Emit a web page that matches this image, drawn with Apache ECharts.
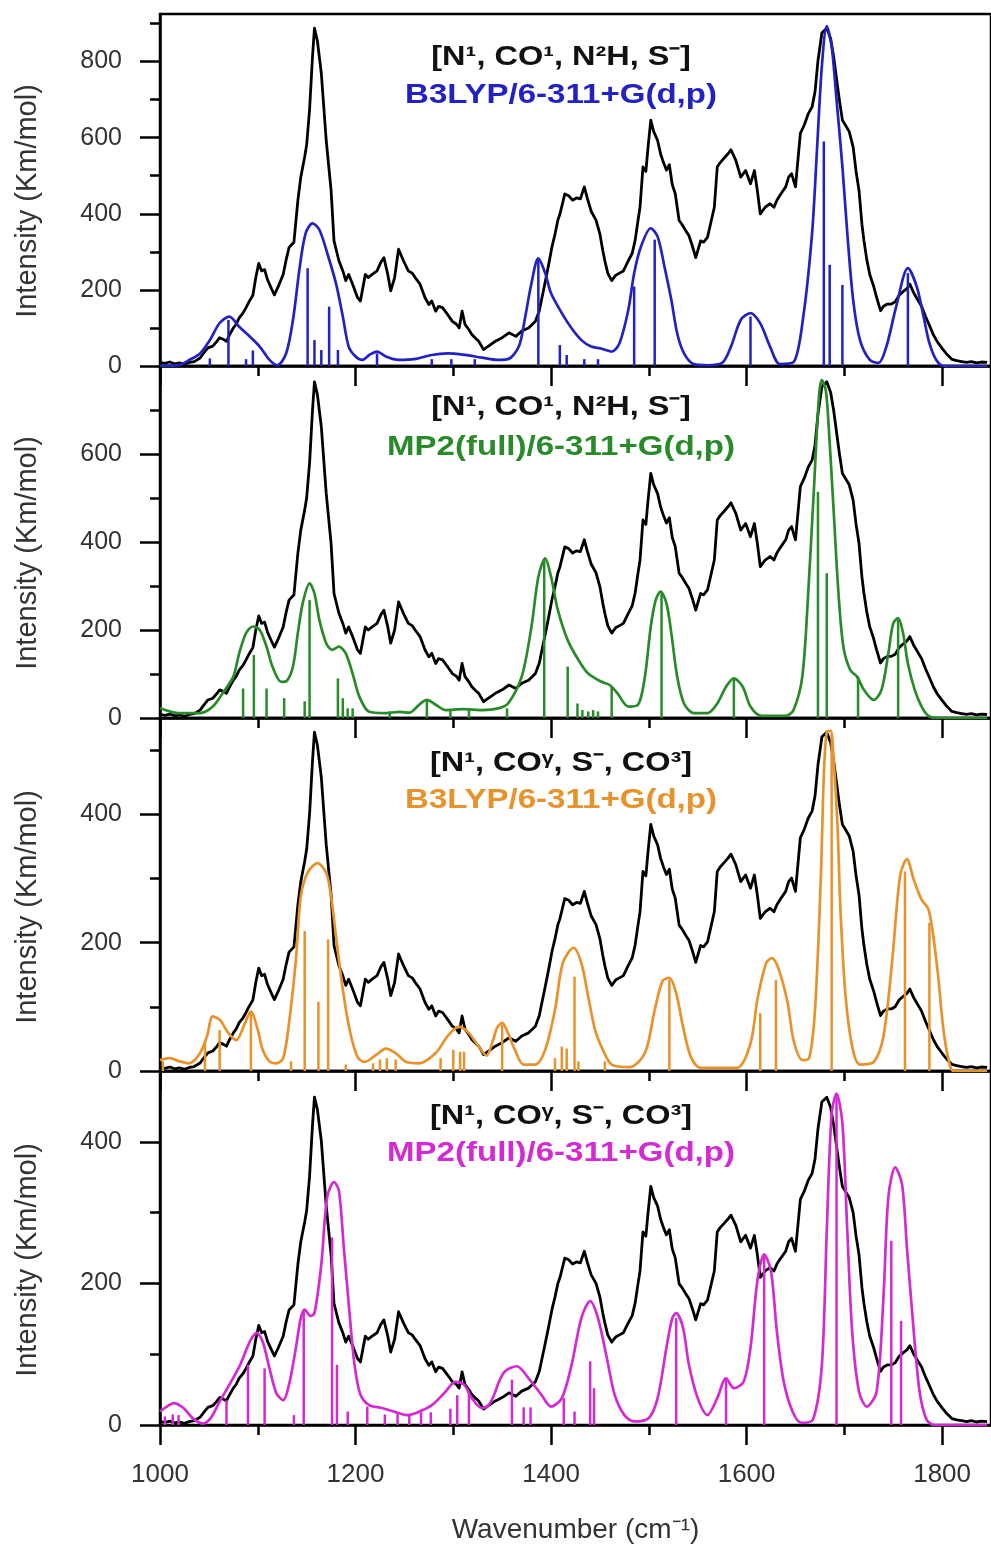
<!DOCTYPE html>
<html><head><meta charset="utf-8">
<script src="https://cdn.jsdelivr.net/npm/echarts@6/dist/echarts.min.js"></script>
<style>html,body{margin:0;padding:0;background:#fff}#chart{width:991px;height:1548px}</style>
</head><body><div id="chart"></div>
<script>
// ---------- data ----------
const xTickMajor = [1000,1200,1400,1600,1800];
const xTickMinor = [1100,1300,1500,1700];

// experimental spectrum (same trace in every panel), read in panel-2 units
const expSpectrum = [[1000,8],[1005,6],[1010,9],[1015,5],[1020,7],[1025,4],[1030,8],[1035,10],[1041,18],[1045,30],[1049,41],[1054,45],[1058,55],[1061,64],[1065,60],[1068,56],[1071,70],[1075,86],[1078,95],[1081,109],[1085,120],[1088,132],[1091,145],[1095,160],[1098,200],[1101,232],[1104,215],[1107,218],[1110,195],[1114,175],[1117,161],[1121,180],[1126,207],[1129,240],[1132,268],[1137,280],[1141,374],[1144,427],[1148,473],[1150,500],[1153,580],[1156,700],[1158,764],[1161,735],[1165,662],[1170,511],[1175,397],[1178,283],[1183,238],[1187,215],[1190,193],[1193,207],[1197,185],[1202,155],[1205,147],[1210,207],[1213,200],[1217,207],[1222,215],[1226,235],[1229,245],[1233,207],[1236,170],[1240,200],[1244,264],[1249,238],[1254,215],[1258,210],[1261,200],[1266,185],[1271,155],[1275,139],[1278,147],[1282,124],[1285,135],[1289,132],[1294,117],[1299,101],[1303,95],[1306,86],[1309,124],[1312,94],[1316,82],[1319,71],[1323,62],[1326,56],[1331,37],[1336,45],[1343,56],[1350,64],[1357,75],[1364,67],[1370,79],[1377,86],[1384,101],[1388,125],[1390,147],[1394,190],[1397,223],[1401,270],[1404,298],[1407,330],[1409,343],[1412,370],[1414,389],[1418,385],[1422,375],[1426,380],[1430,378],[1434,405],[1437,380],[1441,350],[1446,330],[1450,298],[1453,260],[1455,238],[1458,210],[1462,193],[1466,205],[1470,210],[1474,215],[1479,238],[1483,255],[1486,284],[1489,330],[1491,359],[1494,450],[1497,440],[1499,490],[1502,556],[1505,530],[1509,510],[1512,480],[1515,460],[1518,443],[1521,455],[1524,410],[1527,390],[1531,329],[1534,320],[1538,305],[1541,295],[1545,268],[1548,245],[1553,283],[1556,280],[1560,291],[1563,320],[1567,359],[1570,450],[1573,460],[1577,470],[1581,480],[1584,489],[1589,465],[1594,427],[1599,442],[1604,412],[1608,442],[1611,397],[1614,344],[1619,359],[1624,367],[1628,359],[1631,375],[1635,389],[1640,405],[1643,427],[1646,435],[1650,405],[1655,526],[1659,545],[1663,570],[1667,586],[1670,620],[1673,690],[1677,753],[1682,764],[1686,740],[1689,700],[1692,650],[1695,600],[1698,556],[1701,545],[1705,530],[1709,495],[1712,440],[1715,397],[1718,320],[1720,284],[1723,240],[1726,207],[1730,180],[1733,155],[1737,125],[1740,135],[1744,140],[1748,140],[1752,145],[1756,160],[1760,168],[1764,175],[1767,185],[1771,165],[1775,150],[1779,135],[1783,112],[1787,92],[1791,71],[1795,55],[1800,40],[1805,26],[1810,15],[1815,12],[1820,10],[1825,8],[1830,10],[1835,7],[1840,9],[1846,8]];

// panel 1: B3LYP, [N1, CO1, N2H, S-]
const b3lypACurve = [[1000,0],[1020,3],[1030,16],[1041,33],[1051,68],[1061,113],[1071,130],[1081,103],[1092,77],[1102,51],[1112,16],[1120,2],[1129,33],[1136,121],[1143,261],[1149,349],[1156,375],[1163,358],[1171,297],[1180,217],[1187,130],[1193,51],[1200,25],[1207,16],[1214,29],[1222,38],[1231,25],[1244,16],[1260,18],[1278,29],[1294,33],[1312,29],[1329,22],[1346,16],[1356,18],[1367,51],[1373,121],[1380,218],[1387,283],[1394,244],[1400,191],[1411,139],[1421,99],[1431,68],[1441,51],[1451,46],[1462,38],[1470,60],[1479,147],[1485,244],[1492,314],[1502,362],[1509,340],[1516,261],[1523,174],[1529,86],[1536,33],[1546,5],[1560,2],[1575,8],[1584,51],[1594,121],[1604,139],[1614,112],[1624,51],[1634,5],[1648,10],[1658,130],[1667,349],[1672,568],[1677,788],[1682,893],[1687,840],[1692,700],[1698,524],[1703,349],[1709,174],[1716,68],[1726,16],[1735,8],[1743,51],[1753,156],[1765,257],[1774,209],[1781,130],[1787,60],[1794,16],[1802,0],[1846,0]];
const b3lypASticks = [[1051,20],[1070,121],[1088,18],[1095,41],[1151,257],[1158,68],[1165,42],[1173,156],[1182,42],[1222,33],[1278,18],[1298,18],[1322,18],[1387,279],[1409,55],[1416,29],[1434,18],[1448,18],[1485,209],[1506,332],[1604,130],[1679,590],[1685,266],[1698,213],[1765,244]];

// panel 2: MP2(full), [N1, CO1, N2H, S-]
const mp2ACurve = [[1000,22],[1010,15],[1020,11],[1041,11],[1054,26],[1064,56],[1075,94],[1081,147],[1088,193],[1095,208],[1102,200],[1109,162],[1115,117],[1124,82],[1130,85],[1136,117],[1141,193],[1146,261],[1153,306],[1158,283],[1163,223],[1170,170],[1176,155],[1183,162],[1190,147],[1197,101],[1204,48],[1214,14],[1230,11],[1245,14],[1255,12],[1265,30],[1273,41],[1282,30],[1292,18],[1310,20],[1330,18],[1346,22],[1356,33],[1370,94],[1380,208],[1387,321],[1394,363],[1400,321],[1407,245],[1417,177],[1428,132],[1438,101],[1451,83],[1460,75],[1468,56],[1479,26],[1489,30],[1496,94],[1502,208],[1507,268],[1512,287],[1518,261],[1523,193],[1529,94],[1536,33],[1546,11],[1560,11],[1570,33],[1579,71],[1587,90],[1596,71],[1604,26],[1615,5],[1640,5],[1648,18],[1657,94],[1663,283],[1669,526],[1674,730],[1677,768],[1681,745],[1684,662],[1689,473],[1694,283],[1699,162],[1706,109],[1713,94],[1720,64],[1730,41],[1738,64],[1745,147],[1750,215],[1755,227],[1760,193],[1765,124],[1772,64],[1779,26],[1786,5],[1795,0],[1846,0]];
const mp2ASticks = [[1085,67],[1096,143],[1109,67],[1127,45],[1148,38],[1153,268],[1182,90],[1187,45],[1192,22],[1197,22],[1235,15],[1273,41],[1297,20],[1316,20],[1355,22],[1393,359],[1417,117],[1427,33],[1432,18],[1438,15],[1443,18],[1448,15],[1462,71],[1513,283],[1587,90],[1673,514],[1682,329],[1714,94],[1755,223]];

// panel 3: B3LYP, [N1, COγ, S-, CO3]
const b3lypBCurve = [[1000,17],[1010,20],[1020,15],[1030,12],[1041,28],[1048,54],[1054,85],[1061,80],[1070,59],[1078,48],[1087,75],[1093,93],[1100,64],[1105,33],[1112,15],[1119,12],[1126,20],[1132,75],[1139,173],[1144,272],[1151,309],[1161,324],[1170,309],[1175,272],[1180,210],[1187,127],[1194,64],[1202,22],[1209,14],[1221,25],[1231,35],[1241,28],[1252,14],[1265,12],[1282,28],[1295,56],[1306,69],[1316,59],[1326,38],[1334,24],[1340,45],[1345,68],[1350,75],[1356,59],[1363,33],[1372,10],[1384,10],[1394,33],[1404,95],[1412,168],[1423,192],[1431,168],[1438,116],[1445,64],[1453,33],[1462,10],[1480,6],[1496,28],[1506,95],[1514,140],[1521,145],[1528,121],[1535,69],[1543,22],[1553,5],[1590,5],[1604,43],[1611,111],[1620,168],[1626,176],[1633,158],[1642,106],[1648,48],[1657,17],[1664,20],[1670,95],[1676,304],[1679,460],[1682,528],[1686,530],[1689,486],[1693,382],[1696,252],[1701,121],[1708,38],[1716,10],[1730,14],[1740,54],[1749,173],[1757,304],[1764,330],[1771,298],[1779,267],[1786,252],[1791,210],[1796,147],[1801,69],[1806,22],[1812,0],[1846,0]];
const b3lypBSticks = [[1003,15],[1046,46],[1061,64],[1093,93],[1134,15],[1148,218],[1162,108],[1172,205],[1190,10],[1218,12],[1225,18],[1232,20],[1241,18],[1287,20],[1300,33],[1307,30],[1311,30],[1350,72],[1404,20],[1411,38],[1416,35],[1424,147],[1428,15],[1455,15],[1521,142],[1614,90],[1630,142],[1687,525],[1762,311],[1787,231]];

// panel 4: MP2(full), [N1, COγ, S-, CO3]
const mp2BCurve = [[1000,19],[1007,26],[1014,31],[1024,24],[1034,9],[1044,2],[1052,10],[1061,33],[1071,57],[1082,85],[1092,118],[1099,130],[1105,118],[1112,80],[1119,45],[1126,35],[1132,57],[1139,109],[1144,151],[1148,163],[1154,154],[1158,158],[1165,227],[1171,322],[1178,343],[1183,331],[1188,251],[1194,156],[1199,85],[1205,43],[1214,28],[1227,24],[1244,17],[1252,14],[1262,17],[1278,28],[1292,47],[1302,61],[1311,57],[1319,38],[1329,24],[1336,28],[1341,40],[1347,62],[1353,76],[1365,83],[1377,66],[1390,43],[1400,26],[1411,38],[1421,85],[1431,151],[1440,175],[1448,151],[1457,95],[1465,43],[1475,14],[1485,5],[1500,10],[1509,38],[1518,109],[1524,151],[1528,158],[1535,137],[1541,85],[1550,38],[1560,14],[1570,38],[1579,66],[1587,52],[1597,61],[1604,109],[1611,203],[1618,241],[1625,217],[1631,132],[1638,61],[1647,19],[1656,3],[1668,8],[1677,85],[1682,274],[1687,440],[1692,468],[1698,426],[1703,274],[1708,132],[1715,47],[1723,26],[1733,47],[1740,180],[1745,322],[1752,364],[1759,340],[1764,251],[1771,132],[1777,47],[1784,8],[1792,0],[1846,0]];
const mp2BSticks = [[1005,12],[1013,15],[1019,14],[1068,35],[1090,85],[1107,80],[1137,14],[1147,161],[1176,265],[1181,85],[1192,19],[1212,26],[1230,15],[1243,18],[1255,15],[1267,18],[1277,18],[1297,23],[1304,42],[1316,47],[1360,64],[1372,25],[1379,25],[1413,38],[1424,19],[1440,90],[1444,52],[1528,151],[1579,66],[1618,239],[1692,468],[1748,260],[1758,147]];

const yMajorTicks = [[0,200,400,600,800],[0,200,400,600],[0,200,400],[0,200,400]];
const yMinorTicks = [[100,300,500,700,900],[100,300,500,700],[100,300,500],[100,300]];
const titleLine1 = ['[N¹, CO¹, N²H, S⁻]','[N¹, CO¹, N²H, S⁻]','[N¹, COᵞ, S⁻, CO³]','[N¹, COᵞ, S⁻, CO³]'];
const titleLine2 = ['B3LYP/6-311+G(d,p)','MP2(full)/6-311+G(d,p)','B3LYP/6-311+G(d,p)','MP2(full)/6-311+G(d,p)'];
const yTitle = 'Intensity (Km/mol)';
const xTitle = 'Wavenumber (cm⁻¹)';

// ---------- layout / style ----------
const curves = [b3lypACurve, mp2ACurve, b3lypBCurve, mp2BCurve];
const sticks = [b3lypASticks, mp2ASticks, b3lypBSticks, mp2BSticks];
const layout = [
  {top:14,  height:352, yMax:925, expMax:796, color:'#2222c4', t1:57,   t2:95,   ny:201},
  {top:366, height:352, yMax:800, expMax:800, color:'#288a28', t1:407,  t2:447,  ny:553},
  {top:718, height:353, yMax:550, expMax:796, color:'#e8922c', t1:763,  t2:800,  ny:907},
  {top:1071,height:354, yMax:500, expMax:825, color:'#d42ad4', t1:1116, t2:1153, ny:1260}
];
const FONT = '"Liberation Sans", Arial, Helvetica, sans-serif';
const black = {color:'#000', width:2.5};

const grid = [], xAxis = [], yAxis = [], series = [], graphic = [];
layout.forEach((p, k) => {
  grid.push({left:160, top:p.top, width:835, height:p.height, show:true, borderColor:'#000', borderWidth:2.5});
  xAxis.push({
    type:'value', gridIndex:k, min:1000, max:1850, position:'bottom',
    axisLine:{show:true, onZero:false, lineStyle:black},
    axisTick:{show:true, inside:false, length:20, lineStyle:black, customValues:xTickMajor},
    axisLabel:{show:k===3, customValues:xTickMajor, margin:37, color:'#333', fontSize:26, fontFamily:FONT,
      formatter:v => String(v)},
    splitLine:{show:false},
    name: k===3 ? xTitle : '', nameLocation:'middle', nameGap:91,
    nameTextStyle:{color:'#333', fontSize:28, fontFamily:FONT}
  });
  xAxis.push({
    type:'value', gridIndex:k, min:1000, max:1850, position:'bottom',
    axisLine:{show:false, onZero:false},
    axisTick:{show:true, inside:false, length:10, lineStyle:black, customValues:xTickMinor},
    axisLabel:{show:false}, splitLine:{show:false}
  });
  yAxis.push({
    type:'value', gridIndex:k, min:0, max:p.yMax, position:'left',
    axisLine:{show:true, onZero:false, lineStyle:black},
    axisTick:{show:true, inside:false, length:20, lineStyle:black, customValues:yMajorTicks[k]},
    axisLabel:{show:true, customValues:yMajorTicks[k], margin:38, color:'#333', fontSize:25, fontFamily:FONT,
      formatter:v => String(v)},
    splitLine:{show:false}
  });
  yAxis.push({
    type:'value', gridIndex:k, min:0, max:p.yMax, position:'left',
    axisLine:{show:false},
    axisTick:{show:true, inside:false, length:10, lineStyle:black, customValues:yMinorTicks[k]},
    axisLabel:{show:false}, splitLine:{show:false}
  });
  yAxis.push({type:'value', gridIndex:k, min:0, max:p.expMax, show:false, splitLine:{show:false}});

  series.push({type:'line', xAxisIndex:2*k, yAxisIndex:3*k+2, data:expSpectrum, showSymbol:false,
    lineStyle:{color:'#000', width:2.8, join:'round'}, z:2, silent:true});
  series.push({type:'line', xAxisIndex:2*k, yAxisIndex:3*k, data:curves[k], showSymbol:false,
    smooth:0.3, lineStyle:{color:p.color, width:2.7}, z:3, silent:true});
  series.push({type:'bar', xAxisIndex:2*k, yAxisIndex:3*k, data:sticks[k], barWidth:2.5,
    itemStyle:{color:p.color}, z:4, silent:true});

  graphic.push({type:'text', x:561, y:p.t1, scaleX:1.16, z:10,
    style:{text:titleLine1[k], fill:'#111', font:'bold 28px '+FONT, textAlign:'center', align:'center', textVerticalAlign:'middle', verticalAlign:'middle'}});
  graphic.push({type:'text', x:561, y:p.t2, scaleX:1.18, z:10,
    style:{text:titleLine2[k], fill:p.color, font:'bold 28px '+FONT, textAlign:'center', align:'center', textVerticalAlign:'middle', verticalAlign:'middle'}});
  graphic.push({type:'text', x:28, y:p.ny, rotation:Math.PI/2, z:10,
    style:{text:yTitle, fill:'#333', font:'29px '+FONT, textAlign:'center', align:'center', textVerticalAlign:'middle', verticalAlign:'middle'}});
});

const chart = echarts.init(document.getElementById('chart'), null, {renderer:'canvas'});
chart.setOption({animation:false, backgroundColor:'#fff', grid, xAxis, yAxis, series, graphic});
</script></body></html>
